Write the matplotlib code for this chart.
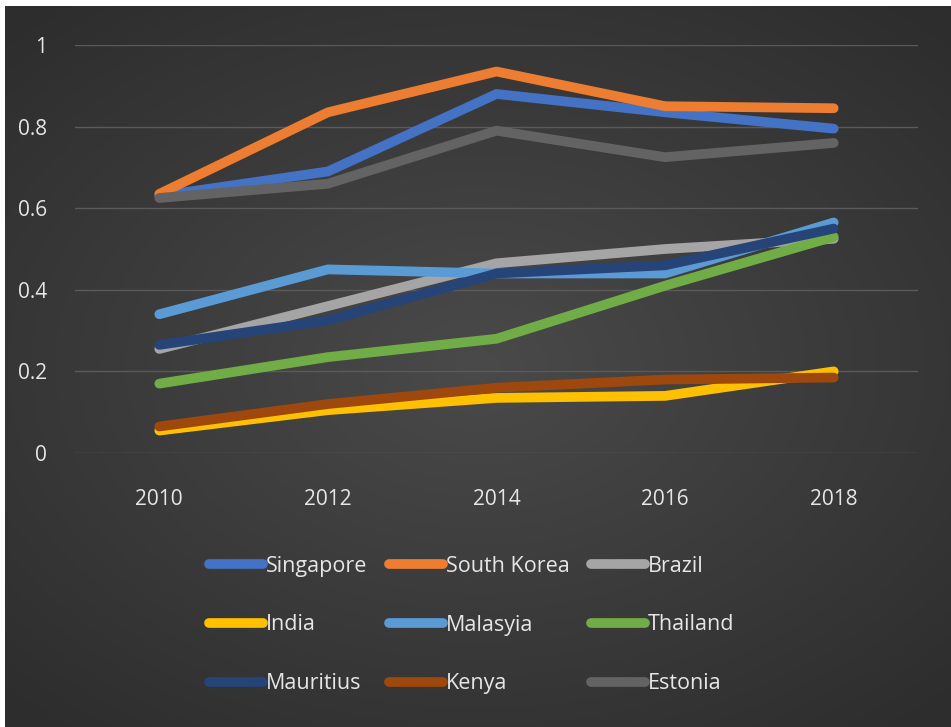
import numpy as np
import matplotlib
matplotlib.use('Agg')
from matplotlib import pyplot as plt
from matplotlib import font_manager

years = [2010, 2012, 2014, 2016, 2018]

singapore = [0.63, 0.69, 0.88, 0.835, 0.795]
south_korea = [0.635, 0.835, 0.935, 0.85, 0.845]
brazil = [0.255, 0.36, 0.465, 0.50, 0.525]
india = [0.055, 0.105, 0.135, 0.14, 0.20]
malaysia = [0.34, 0.45, 0.44, 0.44, 0.565]
thailand = [0.17, 0.235, 0.28, 0.41, 0.53]
mauritius = [0.265, 0.325, 0.44, 0.46, 0.55]
kenya = [0.065, 0.12, 0.16, 0.18, 0.185]
estonia = [0.625, 0.66, 0.79, 0.725, 0.76]

series = [('Singapore', singapore, '#4472C4'),
          ('South Korea', south_korea, '#ED7D31'),
          ('Brazil', brazil, '#A5A5A5'),
          ('India', india, '#FFC000'),
          ('Malasyia', malaysia, '#5B9BD5'),
          ('Thailand', thailand, '#70AD47'),
          ('Mauritius', mauritius, '#264478'),
          ('Kenya', kenya, '#9E480E'),
          ('Estonia', estonia, '#636363')]

available = {f.name for f in font_manager.fontManager.ttflist}
family = next((f for f in ('Liberation Sans Narrow', 'Open Sans', 'DejaVu Sans') if f in available), 'DejaVu Sans')
plt.rcParams['font.family'] = [family, 'DejaVu Sans']

W, H = 951, 727
fig = plt.figure(figsize=(W / 100, H / 100), dpi=100, facecolor='white')

# dark background with a soft vignette
bg = fig.add_axes([5 / W, 0, 1 - 5 / W, 1 - 6 / H])
yy, xx = np.mgrid[-1:1:300j, -1:1:400j]
r = np.sqrt(xx ** 2 + (yy * 1.1) ** 2)
shade = 0.29 - 0.11 * np.clip(r / 1.4, 0, 1)
bg.imshow(np.dstack([shade] * 3), aspect='auto', extent=[0, 1, 0, 1], interpolation='bicubic')
bg.set_axis_off()

ax = fig.add_axes([75 / W, (H - 453) / H, (918 - 75) / W, 408 / H])
ax.set_facecolor('none')
lines = []
for name, vals, color in series:
    ln, = ax.plot(years, vals, color=color, lw=7, label=name, solid_capstyle='round', solid_joinstyle='round')
    lines.append(ln)

ax.set_xlim(2009, 2019)
ax.set_ylim(0, 1)
ax.set_xticks(years)
ax.set_yticks([0, 0.2, 0.4, 0.6, 0.8, 1])
ax.set_yticklabels(['0', '0.2', '0.4', '0.6', '0.8', '1'])
ax.grid(axis='y', color='#5a5a5a', lw=1)
ax.set_axisbelow(True)
for s in ax.spines.values():
    s.set_visible(False)
ax.tick_params(length=0, colors='#e6e6e6', labelsize=15)
ax.tick_params(axis='y', pad=20)
ax.tick_params(axis='x', pad=26)

# legend is filled row by row, matplotlib fills columns -> reorder
order = [0, 3, 6, 1, 4, 7, 2, 5, 8]
handles = [lines[i] for i in order]
labels = [series[i][0] for i in order]
leg = fig.legend(handles, labels, loc='center', bbox_to_anchor=(0.496, (H - 625) / H), ncol=3, frameon=False,
                 fontsize=15.5, handlelength=2.5, handletextpad=0.15, columnspacing=1.0,
                 labelspacing=1.75, labelcolor='#e6e6e6')
for h in leg.get_lines():
    h.set_linewidth(7)
    h.set_solid_capstyle('round')

fig.savefig('out.png', dpi=100, facecolor='white')
